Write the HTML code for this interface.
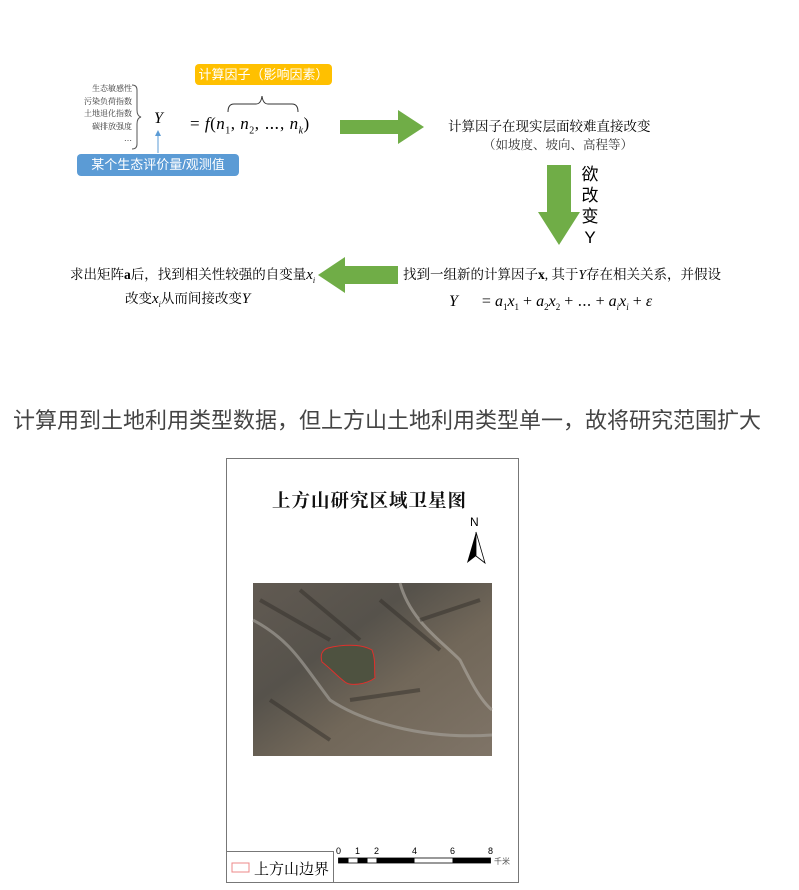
<!DOCTYPE html>
<html><head><meta charset="utf-8">
<style>
body{margin:0;background:#fff;width:799px;height:890px;overflow:hidden;position:relative;font-family:"Liberation Serif","Noto Serif CJK SC",serif;}
.a{position:absolute;white-space:nowrap;}
.s{font-family:"Liberation Sans","Noto Sans CJK SC",sans-serif;}
i{font-family:"Liberation Serif",serif;}
</style></head><body>
<svg width="799" height="890" style="position:absolute;left:0;top:0">
<path d="M132,85 q5,0 5,5 v20 q0,6 4,7 q-4,1 -4,7 v20 q0,5 -5,5" fill="none" stroke="#555" stroke-width="1"/>
<path d="M228,112 q0,-8 6,-8 h22 q5,0 6,-8 q1,8 6,8 h24 q6,0 6,8" fill="none" stroke="#333" stroke-width="1"/>
<line x1="158" y1="153" x2="158" y2="133" stroke="#5b9bd5" stroke-width="1"/>
<path d="M155,136 L158,130 L161,136 Z" fill="#5b9bd5"/>
<path d="M340,120 H398 V110 L424,127 L398,144 V134 H340 Z" fill="#70ad47"/>
<path d="M547,165 H571 V212 H580 L559,245 L538,212 H547 Z" fill="#70ad47"/>
<path d="M398,266 H345 V257 L318,275 L345,293 V284 H398 Z" fill="#70ad47"/>
<rect x="226.5" y="458.5" width="292" height="424" fill="none" stroke="#777" stroke-width="1"/>
<line x1="226" y1="851.5" x2="333" y2="851.5" stroke="#777"/>
<line x1="333.5" y1="851" x2="333.5" y2="882" stroke="#777"/>
<defs>
<linearGradient id="g" x1="0" y1="0" x2="1" y2="1">
<stop offset="0" stop-color="#615a52"/><stop offset="0.35" stop-color="#56524b"/><stop offset="0.6" stop-color="#716759"/><stop offset="1" stop-color="#7f7467"/>
</linearGradient>
</defs>
<rect x="253" y="583" width="239" height="173" fill="url(#g)"/>
<path d="M253,620 C290,640 300,660 330,700 C360,720 420,740 492,735" fill="none" stroke="#a9a59e" stroke-width="3" opacity="0.6"/>
<path d="M400,583 C410,620 440,640 460,660 C470,680 480,700 492,710" fill="none" stroke="#b0aca4" stroke-width="3" opacity="0.6"/>
<path d="M260,600 L330,640 M300,590 L360,640 M380,600 L440,650 M270,700 L330,740 M420,620 L480,600 M350,700 L420,690" stroke="#34302b" stroke-width="4" opacity="0.5"/>
<path d="M328,648 C340,645 360,643 372,650 C376,660 374,670 375,678 C365,685 350,686 345,682 C337,676 330,668 322,662 C320,655 322,650 328,648 Z" fill="#4e5240" stroke="#e0302c" stroke-width="1"/>
<path d="M476,532 L467,563 L476,556 Z" fill="#000"/>
<path d="M476,532 L485,563 L476,556 Z" fill="#fff" stroke="#000" stroke-width="0.8"/>
<rect x="338.5" y="858" width="152" height="5" fill="#fff" stroke="#000" stroke-width="0.8"/>
<rect x="338.5" y="858" width="10" height="5" fill="#000"/>
<rect x="357.5" y="858" width="10" height="5" fill="#000"/>
<rect x="376.5" y="858" width="38" height="5" fill="#000"/>
<rect x="452.5" y="858" width="38" height="5" fill="#000"/>
<rect x="232" y="863" width="17" height="9" fill="none" stroke="#e88" stroke-width="1"/>
</svg>

<div class="a" style="left:82px;top:83px;font-size:8px;line-height:12.5px;text-align:right;width:50px;color:#333">生态敏感性<br>污染负荷指数<br>土地退化指数<br>碳排放强度<br>…</div>
<div class="a" style="left:154px;top:110px;font-size:16px"><i>Y</i></div>
<div class="a" style="left:190px;top:109px;font-size:17px;letter-spacing:0.5px">= <i>f</i>(<i>n</i><sub style="font-size:10px">1</sub>, <i>n</i><sub style="font-size:10px">2</sub>, ⋯, <i>n<sub style="font-size:10px">k</sub></i>)</div>
<div class="a s" style="left:195px;top:64px;width:137px;height:21px;background:#ffc000;border-radius:4px;color:#fff;font-size:13px;line-height:21px;text-align:center">计算因子（影响因素）</div>
<div class="a s" style="left:77px;top:154px;width:162px;height:22px;background:#5b9bd5;border-radius:4px;color:#fff;font-size:13px;line-height:22px;text-align:center">某个生态评价量/观测值</div>

<div class="a" style="left:448px;top:115px;font-size:13.5px">计算因子在现实层面较难直接改变</div>
<div class="a" style="left:483px;top:135px;font-size:12.5px;color:#333">（如坡度、坡向、高程等）</div>
<div class="a s" style="left:580px;top:164px;font-size:17px;line-height:21px;width:20px;text-align:center">欲<br>改<br>变<br>Y</div>

<div class="a" style="left:403px;top:263px;font-size:13.5px">找到一组新的计算因子<b>x</b>, 其于<i>Y</i>存在相关关系，并假设</div>
<div class="a" style="left:449px;top:288px;font-size:16px"><i>Y</i>&nbsp;&nbsp;&nbsp;&nbsp;&nbsp;&nbsp;= <i>a</i><sub style="font-size:9px">1</sub><i>x</i><sub style="font-size:9px">1</sub> + <i>a</i><sub style="font-size:9px">2</sub><i>x</i><sub style="font-size:9px">2</sub> + ⋯ + <i>a<sub style="font-size:9px">i</sub>x<sub style="font-size:9px">i</sub></i> + <i>ε</i></div>
<div class="a" style="left:70px;top:263px;font-size:13.5px">求出矩阵<b>a</b>后，找到相关性较强的自变量<i style="font-size:15px">x<sub style="font-size:8px">i</sub></i></div>
<div class="a" style="left:125px;top:287px;font-size:13.5px">改变<i style="font-size:15px">x<sub style="font-size:8px">i</sub></i>从而间接改变<i style="font-size:15px">Y</i></div>

<div class="a s" style="left:13px;top:403px;font-size:22px;color:#444">计算用到土地利用类型数据，但上方山土地利用类型单一，故将研究范围扩大</div>

<div class="a" style="left:272px;top:487px;font-size:18.5px;font-weight:bold;letter-spacing:1px;color:#111">上方山研究区域卫星图</div>
<div class="a s" style="left:470px;top:515px;font-size:12px">N</div>
<div class="a s" style="left:336px;top:846px;font-size:9px">0</div>
<div class="a s" style="left:355px;top:846px;font-size:9px">1</div>
<div class="a s" style="left:374px;top:846px;font-size:9px">2</div>
<div class="a s" style="left:412px;top:846px;font-size:9px">4</div>
<div class="a s" style="left:450px;top:846px;font-size:9px">6</div>
<div class="a s" style="left:488px;top:846px;font-size:9px">8</div>
<div class="a s" style="left:494px;top:856px;font-size:8px;color:#555">千米</div>
<div class="a" style="left:254px;top:858px;font-size:15px">上方山边界</div>
</body></html>
